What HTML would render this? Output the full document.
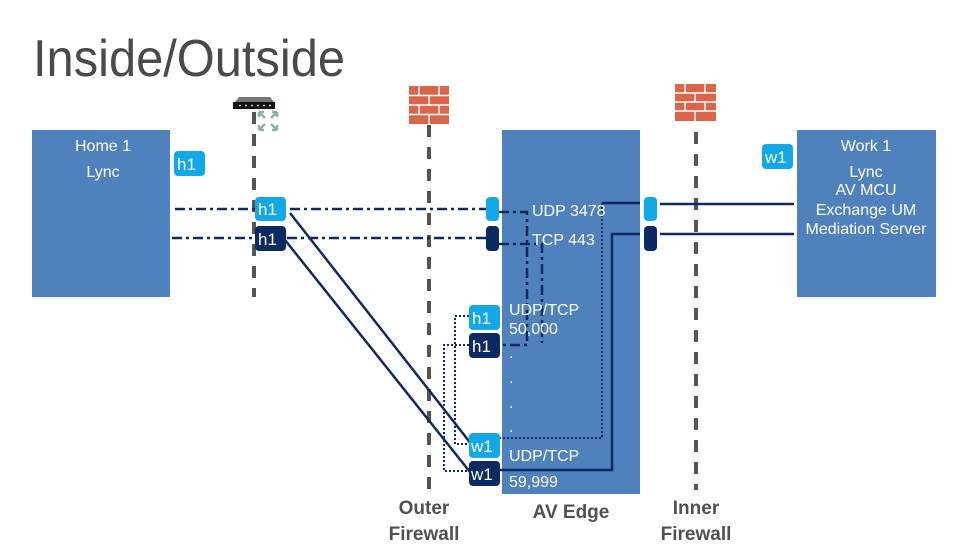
<!DOCTYPE html>
<html><head><meta charset="utf-8"><style>
html,body{margin:0;padding:0;background:#fff;}
svg{display:block;font-family:"Liberation Sans",sans-serif;}
</style></head><body>
<svg width="979" height="551" viewBox="0 0 979 551" xmlns="http://www.w3.org/2000/svg">
<text x="33" y="76" font-size="52" fill="#4a4a4a" textLength="312" lengthAdjust="spacingAndGlyphs">Inside/Outside</text>

<!-- boxes -->
<rect x="32" y="130" width="138" height="167" fill="#4f81bd"/>
<rect x="502" y="130" width="138" height="364" fill="#4f81bd"/>
<rect x="797" y="130" width="139" height="167" fill="#4f81bd"/>

<g fill="#fff" font-size="16" text-anchor="middle">
<text x="103" y="151">Home 1</text>
<text x="103" y="177">Lync</text>
<text x="866" y="151">Work 1</text>
<text x="866" y="177">Lync</text>
<text x="866" y="195">AV MCU</text>
<text x="866" y="215">Exchange UM</text>
<text x="866" y="234">Mediation Server</text>
</g>

<!-- dashed vertical lines -->
<g stroke="#555" stroke-width="4" stroke-dasharray="12,10">
<line x1="254" y1="112" x2="254" y2="297"/>
<line x1="429" y1="125" x2="429" y2="490"/>
<line x1="696" y1="132" x2="696" y2="490"/>
</g>

<!-- NAT icon -->
<path d="M239 97 L270 97 L274 102 L235 102 Z" fill="#777"/>
<rect x="233" y="102" width="42" height="7" fill="#111"/>
<g fill="#fff"><circle cx="240" cy="105.5" r="0.9"/><circle cx="246" cy="105.5" r="0.9"/><circle cx="252" cy="105.5" r="0.9"/><circle cx="258" cy="105.5" r="0.9"/><circle cx="264" cy="105.5" r="0.9"/><circle cx="270" cy="105.5" r="0.9"/></g>
<g stroke="#8fb0a8" stroke-width="2.5" fill="none"><path d="M259 112 L265 118 M259 112 h5 M259 112 v5 M277 112 L271 118 M277 112 h-5 M277 112 v5 M259 130 L265 124 M259 130 h5 M259 130 v-5 M277 130 L271 124 M277 130 h-5 M277 130 v-5"/></g>

<!-- firewalls -->
<g fill="#d9654a">
<rect x="409" y="86" width="40" height="38"/>
<rect x="675" y="84" width="41" height="37"/>
</g>
<g stroke="#fff" stroke-width="1.5">
<path d="M409 95.5h40M409 105h40M409 114.5h40M419 86v9.5M439 86v9.5M429 95.5v9.5M419 105v9.5M439 105v9.5M429 114.5v9.5"/>
<path d="M675 93h41M675 102h41M675 111h41M685 84v9M705 84v9M695 93v9M685 102v9M705 102v9M695 111v10"/>
</g>

<!-- dash-dot lines -->
<g stroke="#0e2a5e" stroke-width="2.5" stroke-dasharray="10,4,3,4" fill="none">
<line x1="175" y1="209" x2="255" y2="209"/>
<line x1="172" y1="238" x2="254" y2="238"/>
<line x1="290" y1="209" x2="488" y2="209"/>
<line x1="287" y1="238" x2="488" y2="238"/>
<path d="M499 212 H527 V345 H501"/>
<path d="M499 244 H542 V343"/>
</g>
<!-- dotted -->
<g stroke="#0e2a5e" stroke-width="2" stroke-dasharray="2,2" fill="none">
<path d="M469 316 H455 V444 H469"/>
<path d="M469 345 H444 V471 H469"/>
<path d="M602 203 V438 H500"/>
</g>
<g stroke="#0e2a5e" stroke-width="2.5" fill="none">
<path d="M640 203 H602"/>
<path d="M640 234 H612 V470 H500"/>
<line x1="660" y1="204" x2="794" y2="204"/>
<line x1="660" y1="234" x2="794" y2="234"/>
<line x1="290" y1="213" x2="472" y2="445"/>
<line x1="285" y1="240" x2="470" y2="472"/>
</g>

<!-- badges -->
<g font-size="17" fill="#fff">
<rect x="174" y="151" width="31" height="25" rx="4" fill="#12a8e6"/><text x="177" y="170">h1</text>
<rect x="762" y="144" width="31" height="25" rx="4" fill="#12a8e6"/><text x="765" y="163">w1</text>
<rect x="255" y="197" width="31" height="24" rx="4" fill="#12a8e6"/><text x="258" y="215">h1</text>
<rect x="255" y="226" width="31" height="25" rx="4" fill="#0b2a62"/><text x="258" y="245">h1</text>
<rect x="469" y="305" width="31" height="25" rx="4" fill="#12a8e6"/><text x="472" y="324">h1</text>
<rect x="469" y="333" width="31" height="25" rx="4" fill="#0b2a62"/><text x="472" y="352">h1</text>
<rect x="469" y="433" width="31" height="25" rx="4" fill="#12a8e6"/><text x="471" y="452">w1</text>
<rect x="469" y="461" width="31" height="25" rx="4" fill="#0b2a62"/><text x="471" y="480">w1</text>
</g>
<rect x="486" y="197" width="13" height="24" rx="4" fill="#12a8e6"/>
<rect x="486" y="226" width="13" height="25" rx="4" fill="#0b2a62"/>
<rect x="644" y="197" width="13" height="24" rx="4" fill="#12a8e6"/>
<rect x="644" y="226" width="13" height="25" rx="4" fill="#0b2a62"/>

<!-- AV edge text -->
<g fill="#fff" font-size="16">
<text x="532" y="216">UDP 3478</text>
<text x="532" y="245">TCP 443</text>
<text x="509" y="315">UDP/TCP</text>
<text x="509" y="334">50,000</text>
<text x="509" y="358">.</text>
<text x="509" y="383">.</text>
<text x="509" y="408">.</text>
<text x="509" y="432">.</text>
<text x="509" y="461">UDP/TCP</text>
<text x="509" y="487">59,999</text>
</g>

<g fill="#505050" font-size="19" font-weight="bold" text-anchor="middle">
<text x="424" y="514">Outer</text>
<text x="424" y="540">Firewall</text>
<text x="571" y="518">AV Edge</text>
<text x="696" y="514">Inner</text>
<text x="696" y="540">Firewall</text>
</g>
</svg>
</body></html>
